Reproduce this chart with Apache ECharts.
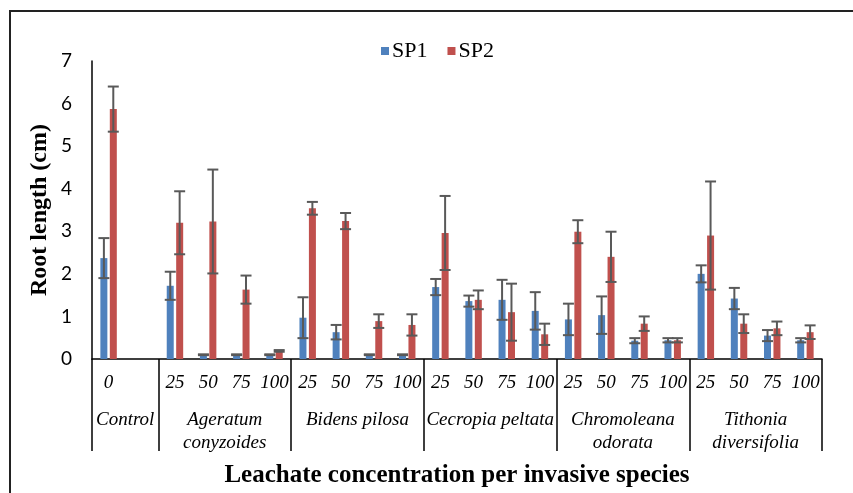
<!DOCTYPE html>
<html>
<head>
<meta charset="utf-8">
<script src="https://cdn.jsdelivr.net/npm/echarts@6/dist/echarts.min.js"></script>
<style>
  html, body { margin: 0; padding: 0; background: #fff; }
  #chart { width: 853px; height: 493px; }
</style>
</head>
<body>
<div id="chart"></div>
<script>
// concentration per category (the 2nd slot of Control is empty)
var categories = ['0', '', '25', '50', '75', '100', '25', '50', '75', '100', '25', '50', '75', '100',
    '25', '50', '75', '100', '25', '50', '75', '100'];
var groupNames = ['Control', 'Ageratum\nconyzoides', 'Bidens pilosa', 'Cecropia peltata',
    'Chromoleana\nodorata', 'Tithonia\ndiversifolia'];
var groupEdges = [0, 2, 6, 10, 14, 18, 22];
var groupCenters = [1, 4, 8, 12, 16, 20];

var sp1 = [2.37, '-', 1.72, 0.1, 0.1, 0.1, 0.97, 0.63, 0.1, 0.1, 1.69, 1.36, 1.39, 1.13,
    0.93, 1.03, 0.43, 0.44, 2.00, 1.42, 0.55, 0.44];
var sp1Err = [0.47, '-', 0.33, 0.01, 0.01, 0.01, 0.48, 0.17, 0.01, 0.01, 0.19, 0.13, 0.47, 0.44,
    0.37, 0.44, 0.06, 0.05, 0.20, 0.25, 0.13, 0.05];
var sp2 = [5.87, '-', 3.20, 3.23, 1.63, 0.19, 3.54, 3.24, 0.89, 0.80, 2.96, 1.39, 1.10, 0.58,
    2.99, 2.40, 0.83, 0.44, 2.90, 0.83, 0.72, 0.63];
var sp2Err = [0.53, '-', 0.74, 1.22, 0.33, 0.02, 0.15, 0.19, 0.16, 0.25, 0.87, 0.22, 0.67, 0.25,
    0.27, 0.59, 0.17, 0.05, 1.27, 0.22, 0.16, 0.16];

var serif = "'Liberation Serif', 'Times New Roman', serif";
var barW = 7;
var shift = 4.7;

function errData(vals, errs) {
    var out = [];
    for (var i = 0; i < vals.length; i++) {
        if (vals[i] === '-') continue;
        out.push([i, vals[i] - errs[i], vals[i] + errs[i]]);
    }
    return out;
}

function errRenderer(dx) {
    return function(params, api) {
        var lo = api.coord([api.value(0), api.value(1)]);
        var hi = api.coord([api.value(0), api.value(2)]);
        var x = lo[0] + dx;
        var cap = 5.5;
        var style = { stroke: '#595959', lineWidth: 2 };
        return {
            type: 'group',
            children: [
                { type: 'line', shape: { x1: x, y1: lo[1], x2: x, y2: hi[1] }, style: style },
                { type: 'line', shape: { x1: x - cap, y1: lo[1], x2: x + cap, y2: lo[1] }, style: style },
                { type: 'line', shape: { x1: x - cap, y1: hi[1], x2: x + cap, y2: hi[1] }, style: style }
            ]
        };
    };
}

var chart = echarts.init(document.getElementById('chart'));
var option = {
    animation: false,
    backgroundColor: '#fff',
    graphic: [{
        type: 'rect',
        shape: { x: 10, y: 11, width: 900, height: 600 },
        style: { fill: 'none', stroke: '#222', lineWidth: 2 },
        silent: true
    }],
    legend: {
        data: ['SP1', 'SP2'],
        left: 376,
        top: 35,
        icon: 'rect',
        itemWidth: 8,
        itemHeight: 8,
        itemGap: 20,
        textStyle: { fontFamily: serif, fontSize: 22, color: '#000', padding: [0, 0, 0, -2] }
    },
    grid: { left: 92, right: 31, top: 61, bottom: 132, containLabel: false },
    xAxis: [{
        type: 'category',
        data: categories,
        position: 'bottom',
        axisLine: { lineStyle: { color: '#000', width: 1.5 } },
        axisTick: { show: false },
        axisLabel: {
            interval: 0,
            margin: 14,
            fontFamily: serif,
            fontStyle: 'italic',
            fontSize: 19,
            color: '#000'
        },
        name: 'Leachate concentration per invasive species',
        nameLocation: 'middle',
        nameGap: 104,
        nameTextStyle: { fontFamily: serif, fontWeight: 'bold', fontSize: 25, color: '#000' }
    }, {
        type: 'value',
        min: 0,
        max: 22,
        position: 'bottom',
        axisLine: { show: false },
        splitLine: { show: false },
        axisTick: {
            show: true,
            customValues: groupEdges,
            length: 92,
            lineStyle: { color: '#000', width: 1.5 }
        },
        axisLabel: {
            customValues: groupCenters,
            margin: 49,
            verticalAlign: 'top',
            lineHeight: 23,
            fontFamily: serif,
            fontStyle: 'italic',
            fontSize: 19,
            color: '#000',
            formatter: function(v) {
                return groupNames[groupCenters.indexOf(Math.round(v))] || '';
            }
        }
    }],
    yAxis: {
        type: 'value',
        min: 0,
        max: 7,
        interval: 1,
        axisLine: { show: true, lineStyle: { color: '#000', width: 1.5 } },
        axisTick: { show: false },
        splitLine: { show: false },
        axisLabel: { fontFamily: 'Lato', fontSize: 19, color: '#000', margin: 20 },
        name: 'Root length (cm)',
        nameLocation: 'middle',
        nameGap: 40,
        nameRotate: 90,
        nameMoveOverlap: false,
        nameTextStyle: { fontFamily: serif, fontWeight: 'bold', fontSize: 24, color: '#000' }
    },
    series: [{
        name: 'SP1',
        type: 'bar',
        data: sp1,
        barWidth: barW,
        barGap: '35%',
        itemStyle: { color: '#4f81bd' }
    }, {
        name: 'SP2',
        type: 'bar',
        data: sp2,
        barWidth: barW,
        barGap: '35%',
        itemStyle: { color: '#c0504d' }
    }, {
        name: 'SP1 err',
        type: 'custom',
        data: errData(sp1, sp1Err),
        renderItem: errRenderer(-shift),
        z: 5,
        silent: true
    }, {
        name: 'SP2 err',
        type: 'custom',
        data: errData(sp2, sp2Err),
        renderItem: errRenderer(shift),
        z: 5,
        silent: true
    }]
};
chart.setOption(option);
</script>
</body>
</html>
